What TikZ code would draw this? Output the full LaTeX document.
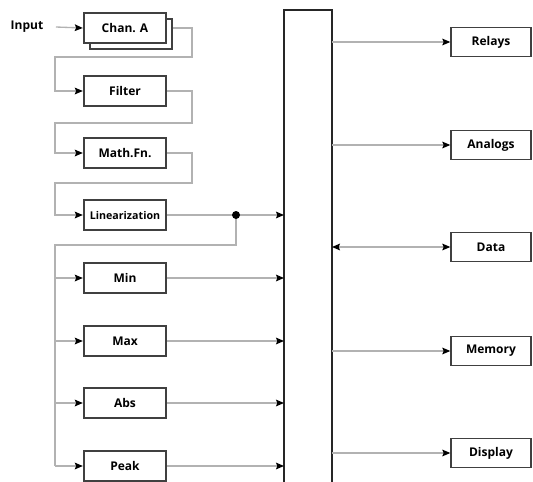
\documentclass[tikz,border=0pt]{standalone}
\usepackage{fontspec}
\setmainfont{Open Sans}
\usetikzlibrary{arrows,arrows.meta,positioning}

\begin{document}
\begin{tikzpicture}[x=0.75pt,y=-0.75pt]
\tikzstyle{block} = [rectangle, draw=black!75, line width=1.3pt, fill=white,
minimum width=62pt, minimum height=22pt, inner sep=0pt, font=\bfseries\small]
\tikzstyle{outbox} = [rectangle, draw=black!75, line width=1pt, fill=white,
minimum width=60pt, minimum height=22pt, inner sep=0pt, font=\bfseries\small]
\tikzstyle{line} = [draw=black!30, line width=1pt, -{Stealth[black,length=6pt,width=5pt,inset=1pt]}];
\tikzstyle{both} = [draw=black!30, line width=1pt, {Stealth[black,length=6pt,width=5pt,inset=1pt]}-{Stealth[black,length=6pt,width=5pt,inset=1pt]}];
\tikzstyle{wire} = [draw=black!30, line width=1pt];
\useasboundingbox (0,0) rectangle (533,482);
% left chain
\node [block] (chanb) at (131,34) {};
\node [block] (chan) at (125,28) {Chan. A};
\node [font=\bfseries\small] (input) at (27,27) {Input};
\node [block] (filter) at (125,91) {Filter};
\node [block] (math) at (125,153) {Math.Fn.};
\node [block, font=\bfseries\footnotesize] (lin) at (125,215) {Linearization};
% branches
\node [block] (min) at (125,278) {Min};
\node [block] (max) at (125,341) {Max};
\node [block] (abs) at (125,403) {Abs};
\node [block] (peak) at (125,466) {Peak};
% bus
\draw [black!85, line width=2.2pt] (284,492) -- (284,10) -- (332,10) -- (332,492);
\coordinate (bus) at (284,0);
\coordinate (busr) at (332,0);
% outputs
\node [outbox] (relays) at (491,42) {Relays};
\node [outbox] (analogs) at (491,145) {Analogs};
\node [outbox] (data) at (491,247) {Data};
\node [outbox] (memory) at (491,351) {Memory};
\node [outbox] (display) at (491,453) {Display};

\coordinate (lx) at (55,0);
\coordinate (rx) at (192,0);
\coordinate (dot) at (236,215);

\path [line] ([xshift=6pt]input.east) -- (chan.west);
\path [line] (chan.east -| chanb.east) -- (chan.east -| rx) -- ++(0,29) -| (lx |- filter) -- (filter.west);
\path [line] (filter.east) -- (filter.east -| rx) -- ++(0,32) -| (lx |- math) -- (math.west);
\path [line] (math.east) -- (math.east -| rx) -- ++(0,30) -| (lx |- lin) -- (lin.west);
\path [line] (lin.east) -- (bus |- lin);
\path [wire] (dot) -- ++(0,30) -| (lx |- peak);
\fill (dot) circle (3pt);
\foreach \b in {min,max,abs,peak} {
  \path [line] (lx |- \b) -- (\b.west);
  \path [line] (\b.east) -- (bus |- \b);
}
\foreach \o in {relays,analogs,memory,display}
  \path [line] (busr |- \o) -- (\o.west);
\path [both] (busr |- data) -- (data.west);

\end{tikzpicture}
\end{document}
